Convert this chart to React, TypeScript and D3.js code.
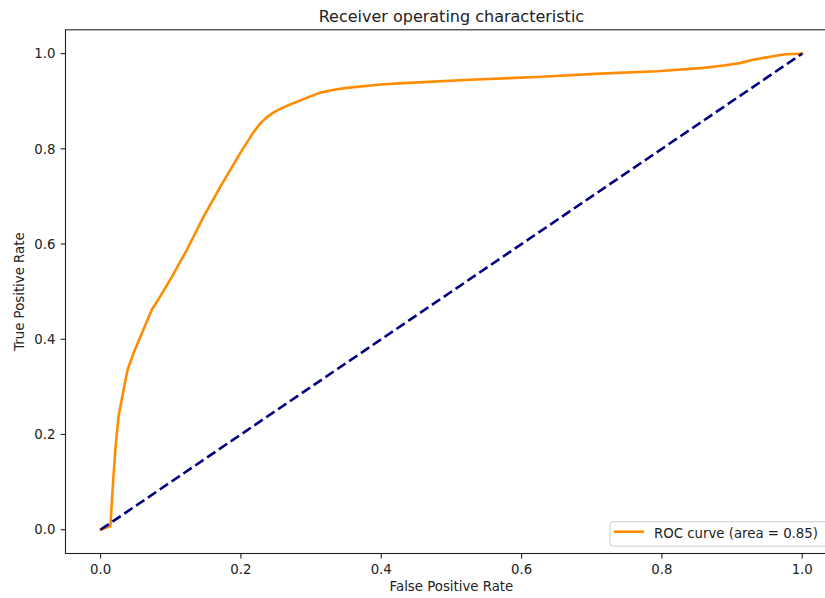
import React from "react";
import * as d3 from "d3";

const fpr = [0, 0.014, 0.0177, 0.021, 0.0256, 0.0328, 0.0385, 0.047, 0.059, 0.073, 0.085, 0.102, 0.123, 0.147, 0.171, 0.199, 0.218, 0.228, 0.236, 0.245, 0.256, 0.27, 0.29, 0.313, 0.333, 0.351, 0.399, 0.432, 0.527, 0.622, 0.712, 0.793, 0.86, 0.888, 0.911, 0.93, 0.945, 0.973, 1];
const tpr = [0, 0.007, 0.098, 0.168, 0.238, 0.294, 0.336, 0.371, 0.413, 0.462, 0.49, 0.532, 0.588, 0.658, 0.721, 0.791, 0.835, 0.854, 0.865, 0.875, 0.884, 0.893, 0.905, 0.918, 0.924, 0.928, 0.935, 0.938, 0.945, 0.951, 0.958, 0.963, 0.97, 0.975, 0.98, 0.987, 0.991, 0.998, 1];
const chanceX = [0, 1];
const chanceY = [0, 1];
const xTicks = [0, 0.2, 0.4, 0.6, 0.8, 1.0];
const yTicks = [0, 0.2, 0.4, 0.6, 0.8, 1.0];
const rocAuc = 0.85;

const W = 825;
const H = 598;
const FONT = "'DejaVu Sans', sans-serif";

export default function App() {
  const x = d3.scaleLinear().domain([-0.05, 1.05]).range([65.5, 837.3]);
  const y = d3.scaleLinear().domain([-0.05, 1.05]).range([553.5, 29.8]);
  const left = x(-0.05), right = x(1.05), top = y(1.05), bottom = y(-0.05);

  const line = d3.line<[number, number]>().x(d => x(d[0])).y(d => y(d[1]));
  const rocPts = fpr.map((f, i) => [f, tpr[i]] as [number, number]);
  const chancePts = chanceX.map((f, i) => [f, chanceY[i]] as [number, number]);

  return (
    <svg width={W} height={H} style={{ position: "absolute", left: 0, top: 0, background: "#fff" }} fontFamily={FONT}>
      <rect x={0} y={0} width={W} height={H} fill="#fff" />
      <defs>
        <clipPath id="plot">
          <rect x={left} y={top} width={right - left} height={bottom - top} />
        </clipPath>
      </defs>
      <g clipPath="url(#plot)">
        <path d={line(rocPts) || ""} fill="none" stroke="#ff8c00" strokeWidth={2.6} strokeLinejoin="round" strokeLinecap="square" />
        <path d={line(chancePts) || ""} fill="none" stroke="#000080" strokeWidth={2.6} strokeDasharray="10,4.3" />
      </g>
      {/* spines */}
      <rect x={left} y={top} width={right - left} height={bottom - top} fill="none" stroke="#222" strokeWidth={1.1} />
      {/* x ticks */}
      {xTicks.map(t => (
        <g key={"x" + t}>
          <line x1={x(t)} x2={x(t)} y1={bottom} y2={bottom + 4.9} stroke="#222" strokeWidth={1.1} />
          <text x={x(t)} y={574} textAnchor="middle" fontSize={13.3} fill="#222">{t.toFixed(1)}</text>
        </g>
      ))}
      {/* y ticks */}
      {yTicks.map(t => (
        <g key={"y" + t}>
          <line x1={left - 4.9} x2={left} y1={y(t)} y2={y(t)} stroke="#222" strokeWidth={1.1} />
          <text x={55.5} y={y(t)} dy="0.36em" textAnchor="end" fontSize={13.3} fill="#222">{t.toFixed(1)}</text>
        </g>
      ))}
      <text x={(left + right) / 2} y={591} textAnchor="middle" fontSize={13.3} fill="#222">False Positive Rate</text>
      <text transform={`translate(24,${(top + bottom) / 2}) rotate(-90)`} textAnchor="middle" fontSize={13.3} fill="#222">True Positive Rate</text>
      <text x={(left + right) / 2} y={22} textAnchor="middle" fontSize={16} fill="#222">Receiver operating characteristic</text>
      {/* legend */}
      <rect x={610} y={521.7} width={220} height={24.5} rx={3} fill="#fff" fillOpacity={0.8} stroke="#ccc" strokeWidth={1} />
      <line x1={614} x2={644} y1={531.7} y2={531.7} stroke="#ff8c00" strokeWidth={2.6} />
      <text x={654} y={538} fontSize={13.3} fill="#222">{`ROC curve (area = ${rocAuc.toFixed(2)})`}</text>
    </svg>
  );
}
